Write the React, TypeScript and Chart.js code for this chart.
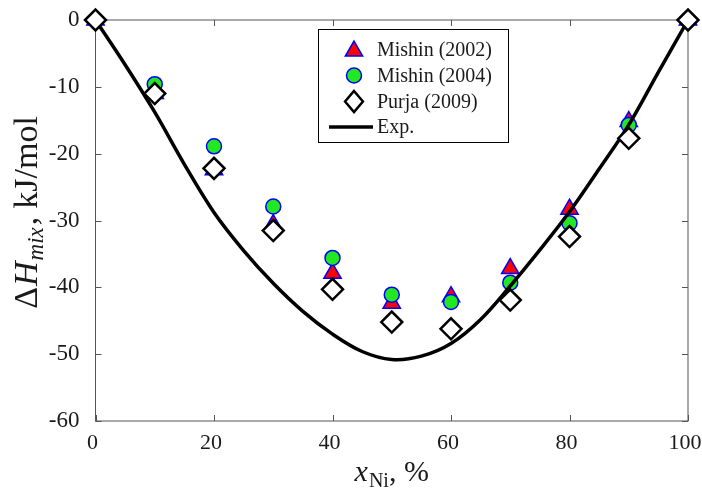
import React, { useEffect, useRef } from "react";
import { Chart, registerables } from "chart.js";

Chart.register(...registerables);

// ---- data ----
const compositions = [0, 10, 20, 30, 40, 50, 60, 70, 80, 90, 100];
const mishin2002 = [0, -11.0, -22.4, -30.6, -37.9, -42.4, -41.4, -37.2, -28.3, -15.2, 0];
const mishin2004 = [0, -9.6, -18.9, -27.9, -35.6, -41.1, -42.2, -39.3, -30.4, -15.7, 0];
const purja2009 = [0, -11.0, -22.2, -31.5, -40.3, -45.2, -46.2, -41.9, -32.4, -17.7, 0];
const expX = [0, 5, 10, 15, 20, 25, 30, 35, 40, 45, 50, 55, 60, 65, 70, 75, 80, 85, 90, 95, 100];
const expY = [0, -6.7, -13.8, -21.6, -28.8, -34.5, -39.4, -43.6, -47.0, -49.6, -50.8, -50.3, -48.4, -44.8, -39.8, -34.4, -28.7, -22.3, -15.7, -7.8, 0];
const xTicks = [0, 20, 40, 60, 80, 100];
const yTicks = [0, -10, -20, -30, -40, -50, -60];
const legendLabels = ["Mishin (2002)", "Mishin (2004)", "Purja (2009)", "Exp."];

const SERIF = "'Liberation Serif', 'Times New Roman', serif";
const TRI_FILL = "#ff0000";
const TRI_EDGE = "#0000ff";
const CIR_FILL = "rgb(34,232,34)";
const CIR_EDGE = "#0000ff";

function drawTriangle(ctx: CanvasRenderingContext2D, x: number, y: number, r: number) {
  ctx.beginPath();
  for (let i = 0; i < 3; i++) {
    const a = (i * 2 * Math.PI) / 3;
    const px = x + Math.sin(a) * r;
    const py = y - Math.cos(a) * r;
    if (i === 0) ctx.moveTo(px, py);
    else ctx.lineTo(px, py);
  }
  ctx.closePath();
  ctx.fillStyle = TRI_FILL;
  ctx.fill();
  ctx.lineWidth = 1.5;
  ctx.strokeStyle = TRI_EDGE;
  ctx.stroke();
}

function drawCircle(ctx: CanvasRenderingContext2D, x: number, y: number, r: number) {
  ctx.beginPath();
  ctx.arc(x, y, r, 0, Math.PI * 2);
  ctx.fillStyle = CIR_FILL;
  ctx.fill();
  ctx.lineWidth = 1.5;
  ctx.strokeStyle = CIR_EDGE;
  ctx.stroke();
}

function drawDiamond(ctx: CanvasRenderingContext2D, x: number, y: number, r: number) {
  ctx.beginPath();
  ctx.moveTo(x, y - r);
  ctx.lineTo(x + r * 0.85, y);
  ctx.lineTo(x, y + r);
  ctx.lineTo(x - r * 0.85, y);
  ctx.closePath();
  ctx.fillStyle = "#ffffff";
  ctx.fill();
  ctx.lineWidth = 2.5;
  ctx.strokeStyle = "#000000";
  ctx.stroke();
}

type Seg = { t: string; italic?: boolean; size: number; dy?: number; gap?: number };

function drawRich(ctx: CanvasRenderingContext2D, segs: Seg[], cx: number, baseY: number) {
  const fontOf = (s: Seg) => `${s.italic ? "italic " : ""}${s.size}px ${SERIF}`;
  let total = 0;
  const widths = segs.map((s) => {
    ctx.font = fontOf(s);
    const w = ctx.measureText(s.t).width + (s.gap || 0);
    total += w;
    return w;
  });
  let x = cx - total / 2;
  segs.forEach((s, i) => {
    ctx.font = fontOf(s);
    ctx.fillText(s.t, x, baseY + (s.dy || 0));
    x += widths[i];
  });
}

const framePlugin = {
  id: "frameTicks",
  beforeDatasetsDraw(chart: any) {
    const { ctx, chartArea: a, scales } = chart;
    ctx.save();
    ctx.strokeStyle = "#555555";
    ctx.lineWidth = 1;
    ctx.strokeRect(a.left, a.top, a.right - a.left, a.bottom - a.top);
    const tl = 6;
    ctx.beginPath();
    xTicks.forEach((v) => {
      const px = Math.round(scales.x.getPixelForValue(v)) + 0.5;
      ctx.moveTo(px, a.bottom);
      ctx.lineTo(px, a.bottom - tl);
      ctx.moveTo(px, a.top);
      ctx.lineTo(px, a.top + tl);
    });
    yTicks.forEach((v) => {
      const py = Math.round(scales.y.getPixelForValue(v)) + 0.5;
      ctx.moveTo(a.left, py);
      ctx.lineTo(a.left + tl, py);
      ctx.moveTo(a.right, py);
      ctx.lineTo(a.right - tl, py);
    });
    ctx.stroke();
    ctx.restore();
  },
  afterDraw(chart: any) {
    const { ctx, chartArea: a } = chart;
    ctx.save();
    ctx.fillStyle = "#1a1a1a";
    ctx.textBaseline = "alphabetic";
    // x title
    drawRich(
      ctx,
      [
        { t: "x", italic: true, size: 30, gap: 1 },
        { t: "Ni", size: 20, dy: 6 },
        { t: ", %", size: 30 },
      ],
      (a.left + a.right) / 2,
      481
    );
    // y title (rotated)
    ctx.save();
    ctx.translate(37, 0);
    ctx.rotate(-Math.PI / 2);
    drawRich(
      ctx,
      [
        { t: "\u0394", size: 34, gap: 1 },
        { t: "H", italic: true, size: 34, gap: 1 },
        { t: "mix", italic: true, size: 23, dy: 6, gap: 2 },
        { t: ",", size: 34, gap: 8 },
        { t: "kJ/mol", size: 34 },
      ],
      -212.5,
      0
    );
    ctx.restore();

    // legend
    const bx = 318.5, by = 29.5, bw = 190, bh = 113;
    ctx.fillStyle = "#ffffff";
    ctx.fillRect(bx, by, bw, bh);
    ctx.strokeStyle = "#000000";
    ctx.lineWidth = 1;
    ctx.strokeRect(bx, by, bw, bh);
    const rows = [50, 75.5, 101.5, 127];
    const mx = 354;
    drawTriangle(ctx, mx, rows[0] + 1, 10);
    drawCircle(ctx, mx, rows[1], 7.5);
    drawDiamond(ctx, mx, rows[2], 10.5);
    ctx.beginPath();
    ctx.moveTo(329, rows[3]);
    ctx.lineTo(373, rows[3]);
    ctx.strokeStyle = "#000000";
    ctx.lineWidth = 3.5;
    ctx.stroke();
    ctx.fillStyle = "#1a1a1a";
    ctx.font = `20px ${SERIF}`;
    ctx.textBaseline = "middle";
    ctx.textAlign = "left";
    legendLabels.forEach((lab, i) => ctx.fillText(lab, 377, rows[i] + 1));
    ctx.restore();
  },
};

export default function App() {
  const ref = useRef<HTMLCanvasElement | null>(null);
  useEffect(() => {
    if (!ref.current) return;
    const toXY = (ys: number[]) => compositions.map((x, i) => ({ x, y: ys[i] }));
    const chart = new Chart(ref.current, {
      type: "scatter",
      data: {
        datasets: [
          {
            label: legendLabels[2],
            data: toXY(purja2009),
            pointStyle: "rectRot",
            pointRadius: 10.5,
            pointBackgroundColor: "#ffffff",
            pointBorderColor: "#000000",
            pointBorderWidth: 2.5,
            clip: false,
            order: 1,
          } as any,
          {
            type: "line",
            label: legendLabels[3],
            data: expX.map((x, i) => ({ x, y: expY[i] })),
            borderColor: "#000000",
            borderWidth: 3.5,
            pointRadius: 0,
            tension: 0.35,
            fill: false,
            clip: false,
            order: 2,
          } as any,
          {
            label: legendLabels[1],
            data: toXY(mishin2004),
            pointStyle: "circle",
            pointRadius: 7.5,
            pointBackgroundColor: CIR_FILL,
            pointBorderColor: CIR_EDGE,
            pointBorderWidth: 1.5,
            clip: false,
            order: 3,
          } as any,
          {
            label: legendLabels[0],
            data: toXY(mishin2002),
            pointStyle: "triangle",
            pointRadius: 10,
            pointBackgroundColor: TRI_FILL,
            pointBorderColor: TRI_EDGE,
            pointBorderWidth: 1.5,
            clip: false,
            order: 4,
          } as any,
        ],
      },
      options: {
        animation: false,
        responsive: false,
        devicePixelRatio: 1,
        layout: { padding: { left: 0, top: 20, right: 14, bottom: 0 } },
        plugins: { legend: { display: false }, tooltip: { enabled: false } },
        scales: {
          x: {
            type: "linear",
            min: 0,
            max: 100,
            grid: { display: false, drawTicks: false },
            border: { display: false },
            ticks: {
              stepSize: 20,
              font: { family: SERIF, size: 22 },
              color: "#1a1a1a",
              padding: 9,
              maxRotation: 0,
              labelOffset: -3,
            },
            afterFit: (s: any) => {
              s.height = 69;
              s.paddingLeft = 0;
              s.paddingRight = 0;
            },
          },
          y: {
            type: "linear",
            min: -60,
            max: 0,
            grid: { display: false, drawTicks: false },
            border: { display: false },
            ticks: {
              stepSize: 10,
              font: { family: SERIF, size: 23 },
              color: "#1a1a1a",
              padding: 16,
            },
            afterFit: (s: any) => {
              s.width = 95.5;
              s.paddingTop = 0;
              s.paddingBottom = 0;
            },
          },
        },
      } as any,
      plugins: [framePlugin],
    });
    return () => chart.destroy();
  }, []);
  return (
    <div style={{ position: "fixed", left: 0, top: 0, width: 702, height: 490, background: "#fff" }}>
      <canvas ref={ref} width={702} height={490} style={{ width: 702, height: 490, display: "block" }} />
    </div>
  );
}
